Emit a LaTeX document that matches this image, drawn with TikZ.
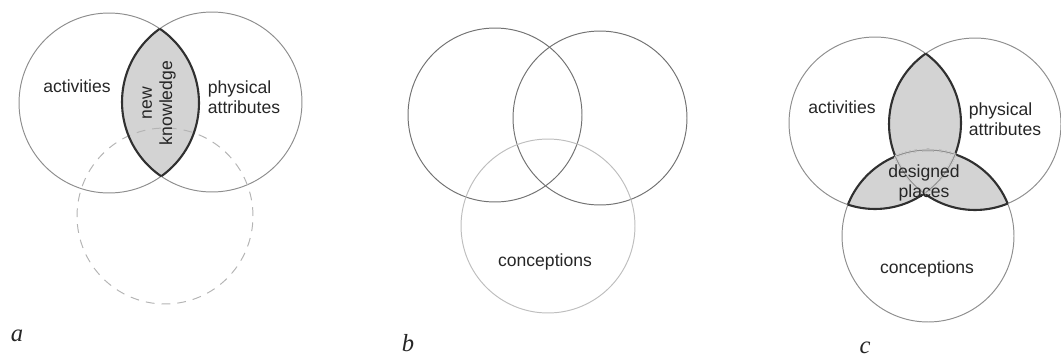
\documentclass[tikz,border=0pt]{standalone}
\usepackage{fontspec}
\setmainfont{Liberation Sans}
\newfontfamily\tagfont{Liberation Serif}
\usetikzlibrary{positioning}
\definecolor{ringgray}{HTML}{8E8E8E}
\definecolor{darkring}{HTML}{727272}
\definecolor{palering}{HTML}{BEBEBE}
\definecolor{lensgray}{HTML}{D3D3D3}
\definecolor{edgegray}{HTML}{303030}
\definecolor{inkgray}{HTML}{262626}

\begin{document}
\begin{tikzpicture}[x=0.02cm, y=-0.02cm, font=\fontsize{10}{11.5}\selectfont,
  ring/.style={draw=ringgray, line width=0.55pt},
  rim/.style={draw=edgegray, line width=1.2pt},
  rimcover/.style={draw=lensgray, line width=1.7pt},
  word/.style={text=inkgray, inner sep=0pt, align=center},
  tag/.style={text=inkgray, inner sep=0pt, font=\tagfont\itshape\fontsize{14}{14}\selectfont}]
  \useasboundingbox (0,0) rectangle (1061,362);

  % a: two circles, shared lens shaded
  \coordinate (aL) at (109,103);
  \coordinate (aR) at (212,102);
  \coordinate (aD) at (165,216);
  \begin{scope}
    \clip (aL) circle[radius=1.8cm];
    \fill[lensgray] (aR) circle[radius=1.8cm];
  \end{scope}
  \draw[ring] (aL) circle[radius=1.8cm];
  \draw[ring] (aR) circle[radius=1.8cm];
  \draw[ring, draw=palering!80!ringgray, dashed, dash pattern=on 5pt off 4pt] (aD) circle[radius=1.76cm];
  \begin{scope}
    \clip (aL) circle[radius=1.8cm];
    \draw[rim] (aR) circle[radius=1.8cm];
  \end{scope}
  \begin{scope}
    \clip (aR) circle[radius=1.8cm];
    \draw[rim] (aL) circle[radius=1.8cm];
  \end{scope}
  \node[word] (aact) at (77,86) {activities};
  \node[word, align=left] (aphys) at (244,97) {physical\\attributes};
  \node[word, rotate=90] (anew) at (159,103) {new\\knowledge};
  \node[tag] (atag) at (17,336) {a};

  % b: three open circles
  \coordinate (bL) at (495,115);
  \coordinate (bR) at (600,118);
  \coordinate (bB) at (548,226);
  \draw[ring, draw=darkring] (bL) circle[radius=1.74cm];
  \draw[ring, draw=darkring] (bR) circle[radius=1.74cm];
  \draw[ring, draw=palering] (bB) circle[radius=1.74cm];
  \node[word] (bcon) at (545,262) {conceptions};
  \node[tag] (btag) at (408,343) {b};

  % c: three circles, pairwise overlaps shaded
  \coordinate (cL) at (875,123);
  \coordinate (cR) at (975,124);
  \coordinate (cB) at (928,236);
  \foreach \p/\q in {cL/cR, cL/cB, cR/cB} {
    \begin{scope}
      \clip (\p) circle[radius=1.72cm];
      \fill[lensgray] (\q) circle[radius=1.72cm];
    \end{scope}
  }
  \foreach \p in {cL, cR, cB}
    \draw[ring] (\p) circle[radius=1.72cm];
  \foreach \p/\q in {cL/cR, cR/cL, cL/cB, cB/cL, cR/cB, cB/cR} {
    \begin{scope}
      \clip (\p) circle[radius=1.72cm];
      \draw[rim] (\q) circle[radius=1.72cm];
    \end{scope}
  }
  % middle arcs stay thin
  \foreach \p/\q/\r in {cL/cR/cB, cR/cB/cL, cL/cB/cR} {
    \begin{scope}
      \clip (\p) circle[radius=1.72cm];
      \clip (\q) circle[radius=1.72cm];
      \draw[rimcover] (\r) circle[radius=1.72cm];
      \draw[ring] (\r) circle[radius=1.72cm];
    \end{scope}
  }
  \node[word] (cact) at (842,107) {activities};
  \node[word, align=left] (cphys) at (1005,119) {physical\\attributes};
  \node[word] (cdes) at (924,183) {designed\\places};
  \node[word] (ccon) at (927,269) {conceptions};
  \node[tag] (ctag) at (865,348) {c};
\end{tikzpicture}
\end{document}
